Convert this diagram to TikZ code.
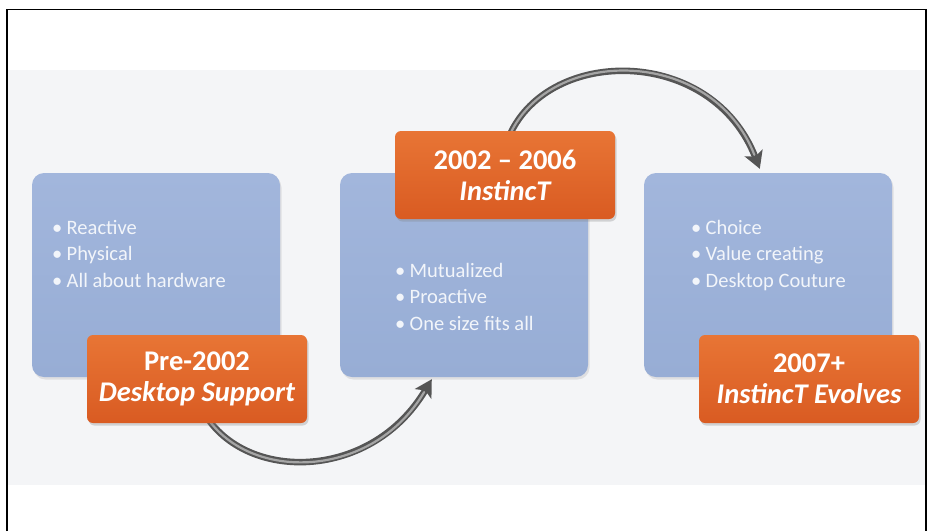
\documentclass[tikz,border=0pt]{standalone}
\usepackage{fontspec}
\setmainfont{Carlito}
\usetikzlibrary{arrows.meta,shadows,calc}

\definecolor{bandgrey}{HTML}{F4F5F7}
\definecolor{boxblue}{HTML}{97ADD5}
\definecolor{boxbluetop}{HTML}{A2B6DC}
\definecolor{labtop}{HTML}{E87535}
\definecolor{labbot}{HTML}{D95B22}
\definecolor{bullettext}{HTML}{F2F5FA}
\definecolor{tubedark}{HTML}{555555}
\definecolor{tubelight}{HTML}{A5A5A5}

\newcommand{\itm}[1]{\makebox[14.5pt][l]{\textbullet}#1}

\tikzset{
  phasebox/.style={rounded corners=12pt, minimum width=248pt, minimum height=204pt,
    top color=boxbluetop, bottom color=boxblue, draw=none,
    drop shadow={opacity=0.18, shadow xshift=1.5pt, shadow yshift=-2.5pt}},
  yearlabel/.style={rounded corners=6pt, minimum width=220pt, minimum height=88pt,
    top color=labtop, bottom color=labbot, draw=none, text=white, align=center,
    font=\fontsize{28.5}{31}\selectfont\bfseries,
    drop shadow={opacity=0.3, shadow xshift=1.5pt, shadow yshift=-2.5pt}},
  bulletlist/.style={inner sep=0pt, anchor=base west, align=left, text=bullettext,
    font=\fontsize{20.5}{26.5}\selectfont},
  tubeouter/.style={line width=6.5pt, draw=tubedark, line cap=round,
    -{Stealth[length=17pt, width=19pt, inset=4pt]}},
  tubeinner/.style={line width=2.2pt, draw=tubelight, line cap=round, shorten >=15pt}
}

\begin{document}
\begin{tikzpicture}[x=1pt, y=-1pt]
  \useasboundingbox (0,0) rectangle (934,531);
  \fill[white] (0,0) rectangle (934,531);
  \fill[bandgrey] (8,70) rectangle (926,485);
  \draw[line width=1.2pt] (7,531) -- (7,9.6) -- (926,9.6) -- (926,531);

  % phase boxes
  \node[phasebox] (box1) at (156,275) {};
  \node[phasebox] (box2) at (464,275) {};
  \node[phasebox] (box3) at (768,275) {};

  % bullet points (anchored at the baseline of the last line)
  \node[bulletlist] (list1) at (52,287) {\itm{Reactive}\\\itm{Physical}\\\itm{All about hardware}};
  \node[bulletlist] (list2) at (395,330) {\itm{Mutualized}\\\itm{Proactive}\\\itm{One size fits all}};
  \node[bulletlist] (list3) at (691,287) {\itm{Choice}\\\itm{Value creating}\\\itm{Desktop Couture}};

  % anchor points of the curved arrows
  \coordinate (a1s) at ($(box1.south west)+(175,40)$);
  \coordinate (a1e) at ($(box2.south west)+(92,2)$);
  \coordinate (a2s) at ($(box2.north west)+(170,-38)$);
  \coordinate (a2e) at ($(box3.north west)+(116,-4)$);

  % curved arrows (drawn before the labels so their tails sit underneath)
  \draw[tubeouter] (a1s) .. controls (250,482) and (372,480) .. (a1e);
  \draw[tubeinner] (a1s) .. controls (250,482) and (372,480) .. (a1e);
  \draw[tubeouter] (a2s) .. controls (550,46) and (712,46) .. (a2e);
  \draw[tubeinner] (a2s) .. controls (550,46) and (712,46) .. (a2e);

  % period labels
  \node[yearlabel] (lab1) at (197,379) {Pre-2002\\\itshape Desktop Support};
  \node[yearlabel] (lab2) at (505,175) {2002 -- 2006\\\itshape InstincT};
  \node[yearlabel] (lab3) at (809,379) {2007+\\\itshape InstincT Evolves};
\end{tikzpicture}
\end{document}
